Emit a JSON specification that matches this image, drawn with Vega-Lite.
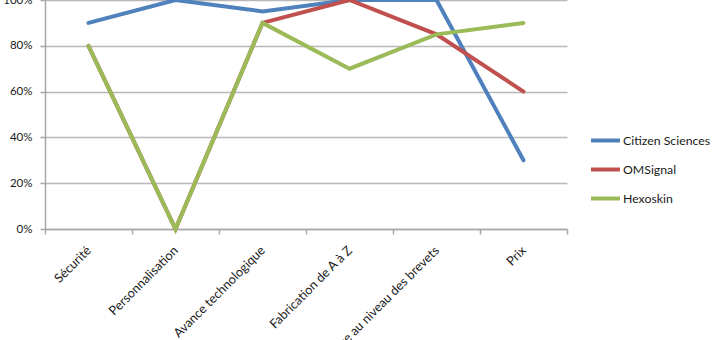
{
  "$schema": "https://vega.github.io/schema/vega-lite/v6.json",
  "width": 522,
  "height": 229,
  "autosize": {"type": "none"},
  "padding": {"left": 45, "top": 0, "right": 153, "bottom": 111},
  "background": "white",
  "config": {
    "view": {"stroke": null},
    "font": "Lato",
    "axis": {"labelFont": "Lato", "labelFontSize": 11.5, "labelColor": "#1a1a1a", "domainColor": "#a6a6a6", "tickColor": "#a6a6a6", "gridColor": "#b8b8b8", "gridWidth": 1.5, "domainWidth": 1.5, "tickWidth": 1.5},
    "legend": {"labelFont": "Lato", "labelFontSize": 12.3, "labelColor": "#1a1a1a"}
  },
  "data": {
    "values": [
      {"critere": "Sécurité", "series": "Citizen Sciences", "value": 0.9},
      {"critere": "Personnalisation", "series": "Citizen Sciences", "value": 1.0},
      {"critere": "Avance technologique", "series": "Citizen Sciences", "value": 0.95},
      {"critere": "Fabrication de A à Z", "series": "Citizen Sciences", "value": 1.0},
      {"critere": "Présence au niveau des brevets", "series": "Citizen Sciences", "value": 1.0},
      {"critere": "Prix", "series": "Citizen Sciences", "value": 0.3},
      {"critere": "Sécurité", "series": "OMSignal", "value": 0.8},
      {"critere": "Personnalisation", "series": "OMSignal", "value": 0.0},
      {"critere": "Avance technologique", "series": "OMSignal", "value": 0.9},
      {"critere": "Fabrication de A à Z", "series": "OMSignal", "value": 1.0},
      {"critere": "Présence au niveau des brevets", "series": "OMSignal", "value": 0.85},
      {"critere": "Prix", "series": "OMSignal", "value": 0.6},
      {"critere": "Sécurité", "series": "Hexoskin", "value": 0.8},
      {"critere": "Personnalisation", "series": "Hexoskin", "value": 0.0},
      {"critere": "Avance technologique", "series": "Hexoskin", "value": 0.9},
      {"critere": "Fabrication de A à Z", "series": "Hexoskin", "value": 0.7},
      {"critere": "Présence au niveau des brevets", "series": "Hexoskin", "value": 0.85},
      {"critere": "Prix", "series": "Hexoskin", "value": 0.9}
    ]
  },
  "encoding": {
    "x": {
      "field": "critere", "type": "nominal", "sort": null, "title": null,
      "scale": {"type": "band", "paddingInner": 0, "paddingOuter": 0},
      "axis": {"tickBand": "extent", "labelAngle": -45, "labelAlign": "right", "labelBaseline": "middle", "labelPadding": 14, "labelFontSize": 12.7, "tickSize": 5, "grid": false, "labelOverlap": false, "labelLimit": 0}
    },
    "y": {
      "field": "value", "type": "quantitative", "title": null,
      "scale": {"domain": [0, 1], "nice": false},
      "axis": {"values": [0, 0.2, 0.4, 0.6, 0.8, 1], "format": ".0%", "tickSize": 5, "labelPadding": 8, "grid": true}
    },
    "color": {
      "field": "series", "type": "nominal", "title": null,
      "scale": {"domain": ["Citizen Sciences", "OMSignal", "Hexoskin"], "range": ["#4F81BD", "#C0504D", "#9BBB59"]},
      "legend": {"orient": "none", "legendX": 544, "legendY": 124, "symbolType": "stroke", "symbolSize": 840, "symbolStrokeWidth": 4, "labelOffset": 1, "rowPadding": 4, "symbolOffset": 0}
    }
  },
  "layer": [
    {"transform": [{"filter": {"field": "series", "equal": "Citizen Sciences"}}], "mark": {"type": "line", "strokeWidth": 4, "strokeCap": "round"}},
    {"transform": [{"filter": {"field": "series", "equal": "OMSignal"}}], "mark": {"type": "line", "strokeWidth": 4, "strokeCap": "round"}},
    {"transform": [{"filter": {"field": "series", "equal": "Hexoskin"}}], "mark": {"type": "line", "strokeWidth": 4, "strokeCap": "round"}}
  ]
}
